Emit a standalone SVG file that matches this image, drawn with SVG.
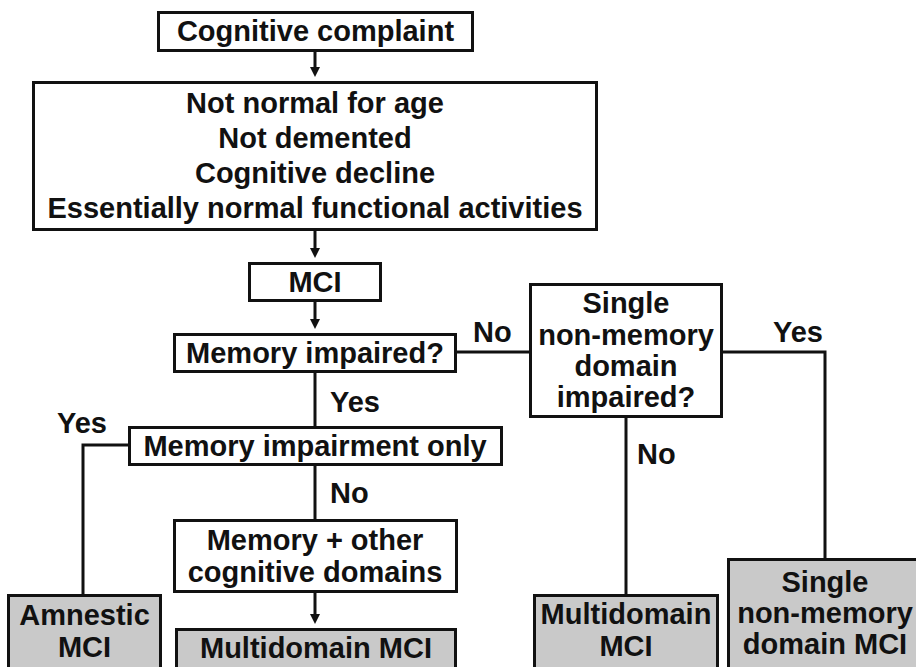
<svg xmlns="http://www.w3.org/2000/svg" width="916" height="667" viewBox="0 0 916 667">
<defs>
<style>
.box{fill:#ffffff;stroke:#111111;stroke-width:3}
.out{fill:#c9c9c9;stroke:#111111;stroke-width:3}
.t{font-family:"Liberation Sans",Arial,Helvetica,sans-serif;font-weight:bold;font-size:29px;fill:#111111;text-anchor:middle}
.l{font-family:"Liberation Sans",Arial,Helvetica,sans-serif;font-weight:bold;font-size:29px;fill:#111111}
.c{fill:none;stroke:#111111;stroke-width:3}
</style>
<marker id="ah" viewBox="0 0 10 10" refX="6" refY="5" markerWidth="10" markerHeight="11" markerUnits="userSpaceOnUse" orient="auto">
<path d="M0,0 L10,5 L0,10 z" fill="#111111"/>
</marker>
</defs>
<rect width="916" height="667" fill="#ffffff"/>
<g id="connectors">
<line class="c" x1="315" y1="51" x2="315" y2="73" marker-end="url(#ah)"/>
<line class="c" x1="315" y1="231" x2="315" y2="254" marker-end="url(#ah)"/>
<line class="c" x1="315" y1="302" x2="315" y2="325" marker-end="url(#ah)"/>
<line class="c" x1="457" y1="352" x2="529" y2="352"/>
<line class="c" x1="315" y1="373" x2="315" y2="426"/>
<polyline class="c" points="128,445 83,445 83,595"/>
<line class="c" x1="315" y1="466" x2="315" y2="519"/>
<line class="c" x1="315" y1="593" x2="315" y2="620" marker-end="url(#ah)"/>
<polyline class="c" points="723,352 825,352 825,559"/>
<line class="c" x1="626" y1="418" x2="626" y2="595"/>
<text class="l" x="473" y="342">No</text>
<text class="l" x="330" y="412">Yes</text>
<text class="l" x="57" y="433">Yes</text>
<text class="l" x="330" y="503">No</text>
<text class="l" x="773" y="342">Yes</text>
<text class="l" x="637" y="464">No</text>
</g>
<g id="n_complaint">
<rect class="box" x="158.5" y="12.5" width="314" height="38"/>
<text class="t" x="315.5" y="41">Cognitive complaint</text>
</g>
<g id="n_criteria">
<rect class="box" x="33.5" y="82.5" width="563" height="147"/>
<text class="t" x="315" y="113">Not normal for age</text>
<text class="t" x="315" y="148">Not demented</text>
<text class="t" x="315" y="183">Cognitive decline</text>
<text class="t" x="315" y="218">Essentially normal functional activities</text>
</g>
<g id="n_mci">
<rect class="box" x="249.5" y="263.5" width="131" height="37"/>
<text class="t" x="315" y="292">MCI</text>
</g>
<g id="n_memimp">
<rect class="box" x="174.5" y="334.5" width="281" height="37"/>
<text class="t" x="315" y="363">Memory impaired?</text>
</g>
<g id="n_memonly">
<rect class="box" x="129.5" y="427.5" width="372" height="37"/>
<text class="t" x="315" y="456">Memory impairment only</text>
</g>
<g id="n_memother">
<rect class="box" x="174.5" y="520.5" width="282" height="71"/>
<text class="t" x="315" y="550">Memory + other</text>
<text class="t" x="315" y="582">cognitive domains</text>
</g>
<g id="n_amnestic">
<rect class="out" x="8.5" y="595.5" width="152" height="80"/>
<text class="t" x="84.5" y="625">Amnestic</text>
<text class="t" x="84.5" y="657">MCI</text>
</g>
<g id="n_multi_left">
<rect class="out" x="176.5" y="629.5" width="279" height="50"/>
<text class="t" x="316" y="658">Multidomain MCI</text>
</g>
<g id="n_single_q">
<rect class="box" x="530.5" y="284.5" width="191" height="132"/>
<text class="t" x="626" y="313">Single</text>
<text class="t" x="626" y="345">non-memory</text>
<text class="t" x="626" y="376">domain</text>
<text class="t" x="626" y="407">impaired?</text>
</g>
<g id="n_multi_right">
<rect class="out" x="534.5" y="595.5" width="183" height="80"/>
<text class="t" x="626" y="624">Multidomain</text>
<text class="t" x="626" y="656">MCI</text>
</g>
<g id="n_single_mci">
<rect class="out" x="728.5" y="559.5" width="196" height="120"/>
<text class="t" x="825" y="592">Single</text>
<text class="t" x="825" y="623">non-memory</text>
<text class="t" x="825" y="654">domain MCI</text>
</g>
</svg>
